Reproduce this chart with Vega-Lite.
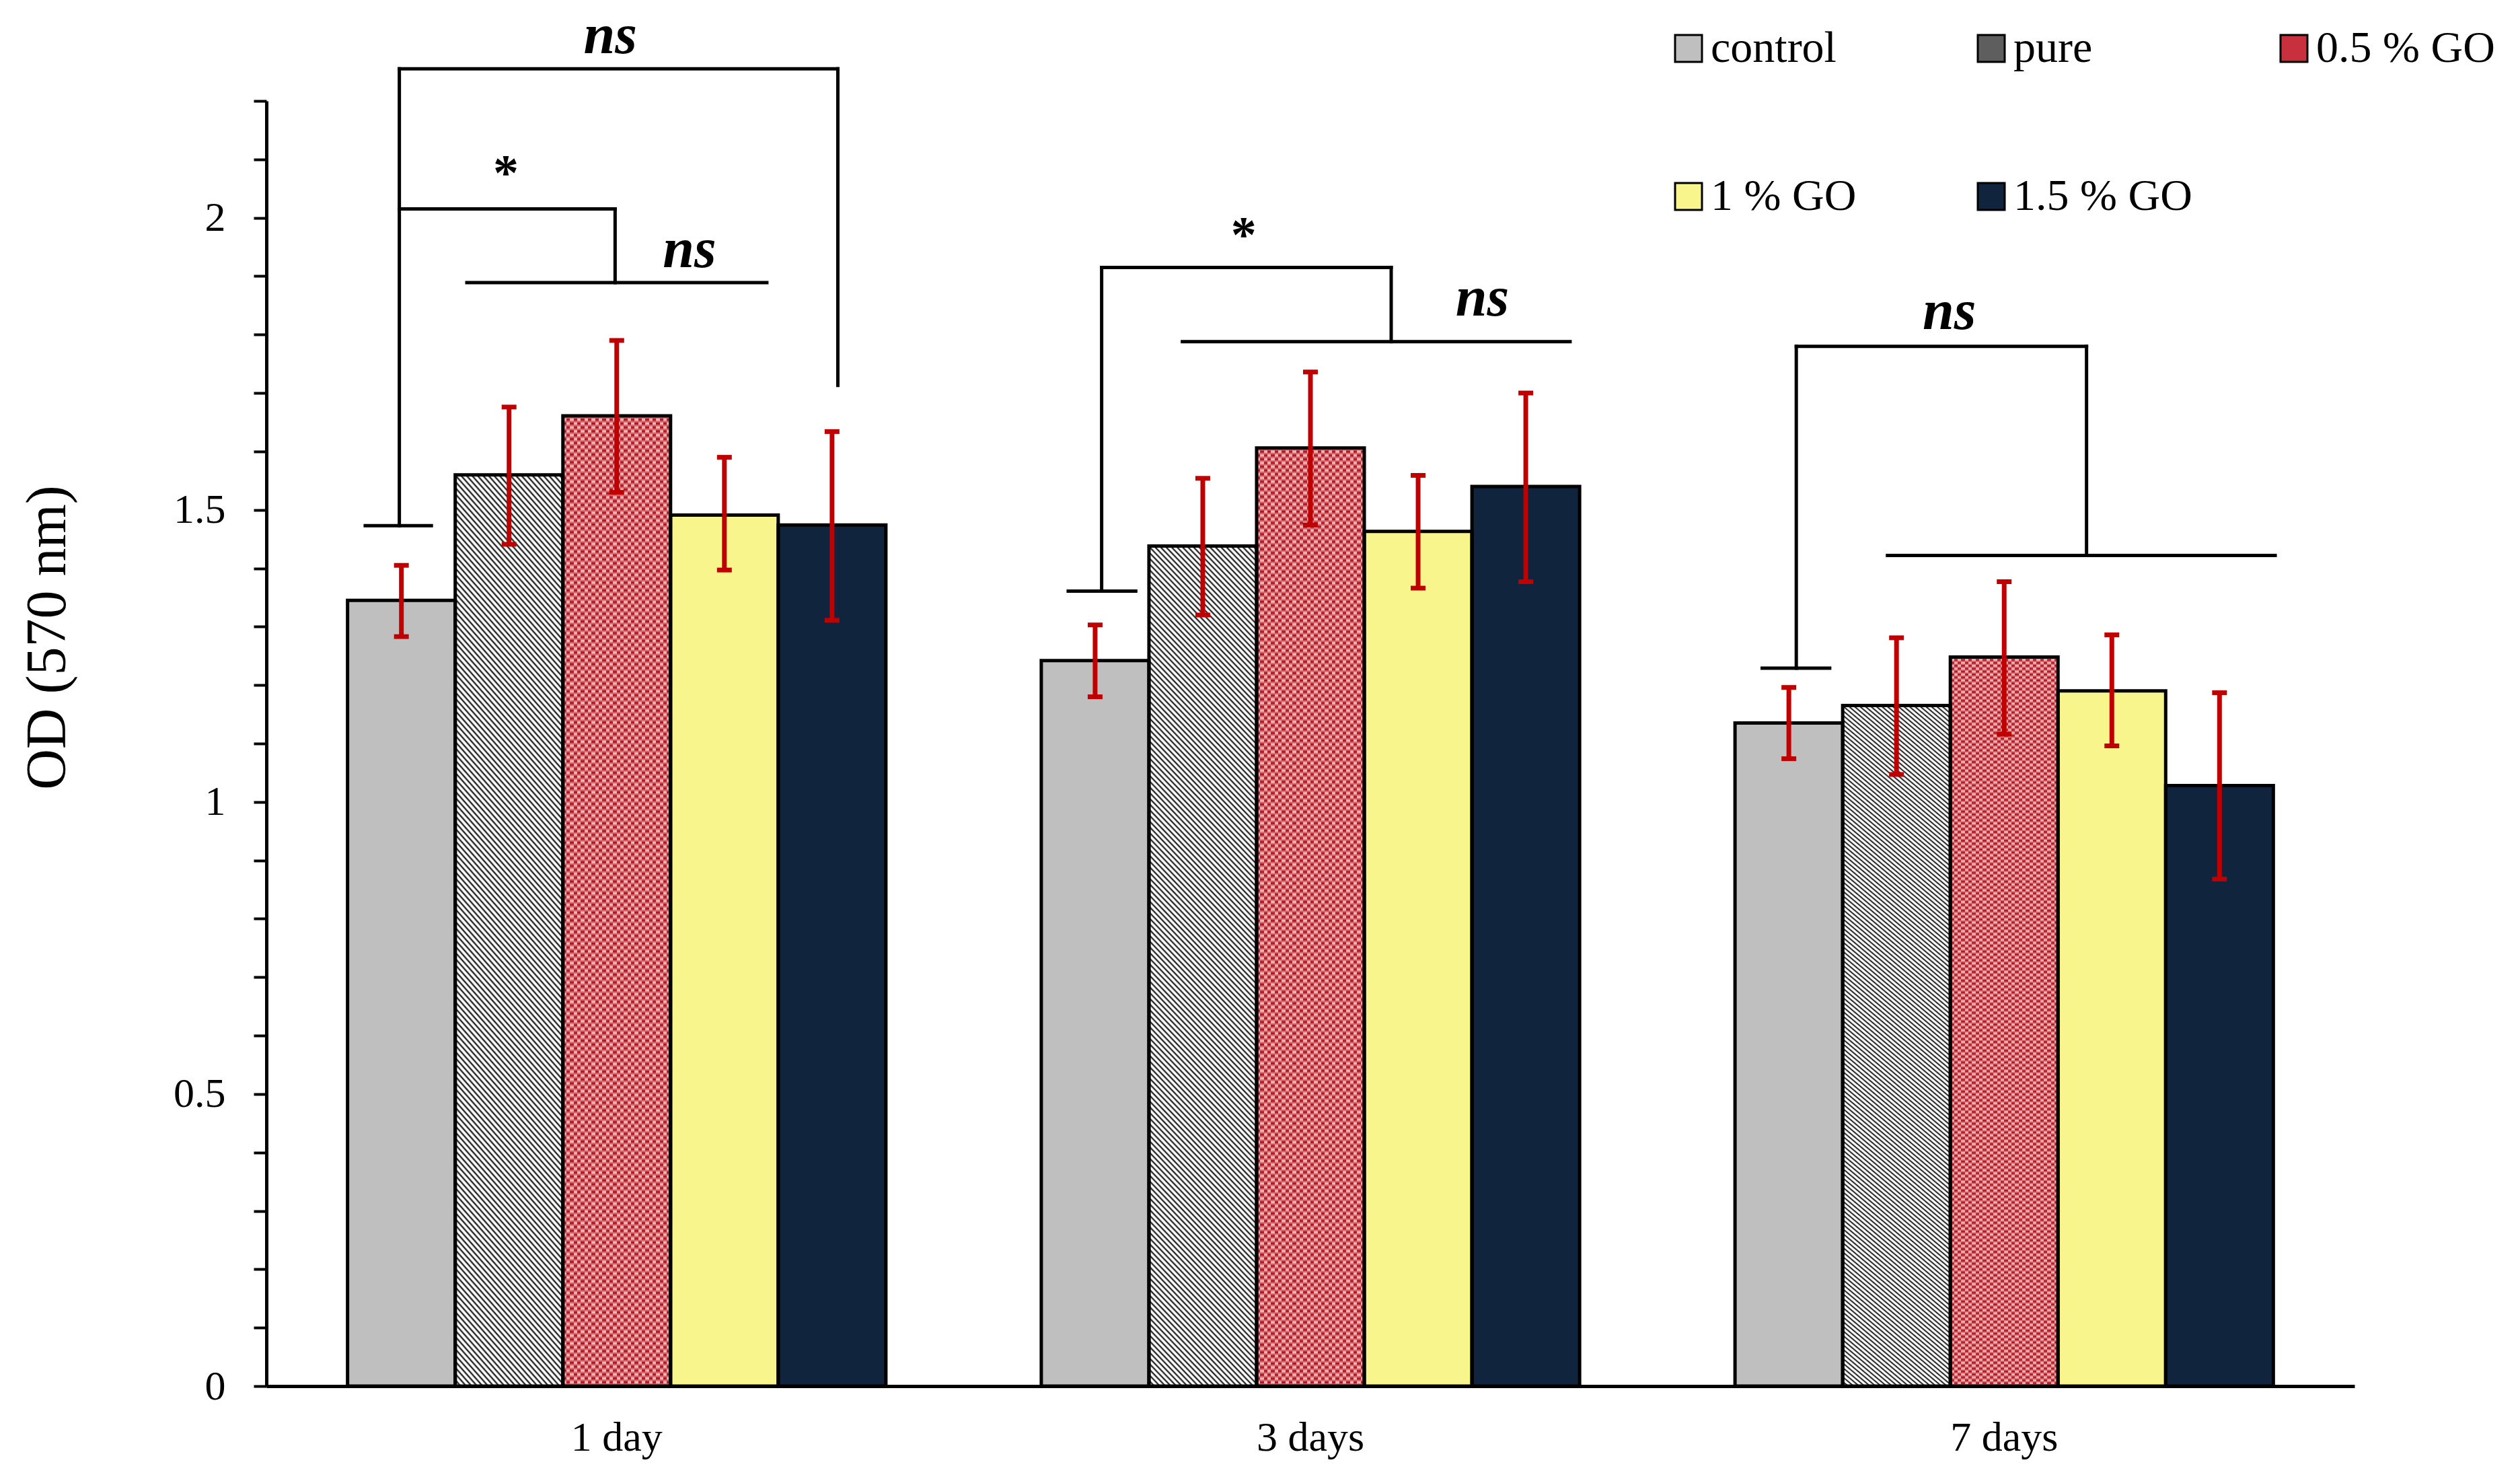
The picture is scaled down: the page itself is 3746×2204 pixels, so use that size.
{
"$schema":"https://vega.github.io/schema/vega-lite/v6.json",
"width":3104,"height":1910,"autosize":"none",
"padding":{"left":396,"top":150,"right":246,"bottom":144},
"background":"white",
"config":{"view":{"stroke":null},"font":"Liberation Serif","axis":{"grid":false},"text":{"font":"Liberation Serif"}},
"datasets":{
"bars":[
{"day":"1 day","group":"control","od":1.345,"lo":1.283,"hi":1.405},
{"day":"1 day","group":"pure","od":1.560,"lo":1.441,"hi":1.676},
{"day":"1 day","group":"0.5 % GO","od":1.661,"lo":1.530,"hi":1.790},
{"day":"1 day","group":"1 % GO","od":1.491,"lo":1.397,"hi":1.590},
{"day":"1 day","group":"1.5 % GO","od":1.474,"lo":1.311,"hi":1.634},
{"day":"3 days","group":"control","od":1.242,"lo":1.180,"hi":1.303},
{"day":"3 days","group":"pure","od":1.438,"lo":1.320,"hi":1.554},
{"day":"3 days","group":"0.5 % GO","od":1.606,"lo":1.474,"hi":1.736},
{"day":"3 days","group":"1 % GO","od":1.463,"lo":1.366,"hi":1.559},
{"day":"3 days","group":"1.5 % GO","od":1.540,"lo":1.377,"hi":1.700},
{"day":"7 days","group":"control","od":1.135,"lo":1.074,"hi":1.196},
{"day":"7 days","group":"pure","od":1.165,"lo":1.047,"hi":1.281},
{"day":"7 days","group":"0.5 % GO","od":1.248,"lo":1.116,"hi":1.377},
{"day":"7 days","group":"1 % GO","od":1.190,"lo":1.096,"hi":1.286},
{"day":"7 days","group":"1.5 % GO","od":1.028,"lo":0.868,"hi":1.187}
],
"brackets":[
{"u":0.142,"u2":0.237,"v":1.473,"v2":1.473},
{"u":0.191,"u2":0.191,"v":1.473,"v2":2.255},
{"u":0.191,"u2":0.821,"v":2.255,"v2":2.255},
{"u":0.821,"u2":0.821,"v":2.255,"v2":1.713},
{"u":0.191,"u2":0.501,"v":2.015,"v2":2.015},
{"u":0.501,"u2":0.501,"v":2.015,"v2":1.889},
{"u":0.288,"u2":0.719,"v":1.889,"v2":1.889},
{"u":1.152,"u2":1.249,"v":1.361,"v2":1.361},
{"u":1.2,"u2":1.2,"v":1.361,"v2":1.915},
{"u":1.2,"u2":1.616,"v":1.915,"v2":1.915},
{"u":1.616,"u2":1.616,"v":1.915,"v2":1.788},
{"u":1.316,"u2":1.873,"v":1.788,"v2":1.788},
{"u":2.149,"u2":2.246,"v":1.229,"v2":1.229},
{"u":2.198,"u2":2.198,"v":1.229,"v2":1.78},
{"u":2.198,"u2":2.615,"v":1.78,"v2":1.78},
{"u":2.615,"u2":2.615,"v":1.78,"v2":1.422},
{"u":2.329,"u2":2.886,"v":1.422,"v2":1.422}
],
"marks":[
{"u":0.494,"v":2.282,"t":"ns"},
{"u":0.608,"v":1.916,"t":"ns"},
{"u":1.747,"v":1.833,"t":"ns"},
{"u":2.418,"v":1.809,"t":"ns"},
{"u":0.344,"v":2.048,"t":"*"},
{"u":1.404,"v":1.942,"t":"*"}
]
},
"resolve":{"scale":{"x":"independent"},"axis":{"x":"independent"}},
"layer":[
{"data":{"name":"bars"},
"encoding":{
"x":{"field":"day","type":"nominal","sort":["1 day","3 days","7 days"],"scale":{"paddingInner":0.224,"paddingOuter":0.117},"axis":{"title":null,"labelAngle":0,"ticks":false,"tickSize":0,"labelPadding":46,"labelFontSize":62,"labelFont":"Liberation Serif","labelColor":"black","domainColor":"black","domainWidth":5}},
"xOffset":{"field":"group","type":"nominal","sort":["control","pure","0.5 % GO","1 % GO","1.5 % GO"],"scale":{"domain":["control","pure","0.5 % GO","1 % GO","1.5 % GO"],"paddingInner":0,"paddingOuter":0}}
},
"layer":[
{"mark":{"type":"bar"},
"encoding":{
"y":{"field":"od","type":"quantitative","scale":{"domain":[0,2.2],"nice":false,"zero":true},"title":"OD (570 nm)",
"axis":{"values":[0,0.1,0.2,0.3,0.4,0.5,0.6,0.7,0.8,0.9,1,1.1,1.2,1.3,1.4,1.5,1.6,1.7,1.8,1.9,2,2.1,2.2],"labelExpr":"(datum.value*2) % 1 === 0 ? format(datum.value, '~g') : ''","labelOverlap":false,"labelFlush":false,"tickSize":19,"tickWidth":4,"tickColor":"black","domainColor":"black","domainWidth":5,"labelPadding":42,"labelFontSize":62,"labelFont":"Liberation Serif","labelColor":"black","title":"OD (570 nm)","titleFont":"Liberation Serif","titleFontSize":84,"titleFontWeight":"normal","titleColor":"black","titleX":-300,"titleY":797,"titleAngle":-90,"titleAlign":"center","titleBaseline":"alphabetic"}},
"color":{"field":"group","type":"nominal","scale":{"domain":["control","pure","0.5 % GO","1 % GO","1.5 % GO"],"range":["#bfbfbf","#5e5e5e","#c8303e","#f8f58c","#10243e"]},
"legend":{"orient":"none","legendX":2081,"legendY":-111,"direction":"horizontal","columns":3,"gridAlign":"all","columnPadding":118,"rowPadding":154,"symbolType":"square","symbolSize":1600,"symbolStrokeColor":"black","symbolStrokeWidth":3,"symbolOpacity":1,"labelFontSize":66,"labelFont":"Liberation Serif","labelColor":"black","labelOffset":0,"labelLimit":600,"title":null,"padding":0}}
}},
{"transform":[{"filter":"datum.group === 'pure'"}],
"mark":{"type":"bar","fill":{"gradient":"linear","x1":0,"y1":1,"x2":0.1485,"y2":-0.1135,"stops":[
{"offset":0,"color":"#000"},{"offset":0.002,"color":"#fff"},{"offset":0.004,"color":"#fff"},{"offset":0.006,"color":"#000"},{"offset":0.008,"color":"#fff"},{"offset":0.01,"color":"#fff"},{"offset":0.012,"color":"#000"},{"offset":0.014,"color":"#fff"},{"offset":0.016,"color":"#fff"},{"offset":0.018,"color":"#000"},{"offset":0.02,"color":"#fff"},{"offset":0.022,"color":"#fff"},{"offset":0.024,"color":"#000"},{"offset":0.026,"color":"#fff"},{"offset":0.028,"color":"#fff"},
{"offset":0.03,"color":"#000"},{"offset":0.032,"color":"#fff"},{"offset":0.034,"color":"#fff"},{"offset":0.036,"color":"#000"},{"offset":0.038,"color":"#fff"},{"offset":0.04,"color":"#fff"},{"offset":0.042,"color":"#000"},{"offset":0.044,"color":"#fff"},{"offset":0.046,"color":"#fff"},{"offset":0.048,"color":"#000"},{"offset":0.05,"color":"#fff"},{"offset":0.052,"color":"#fff"},{"offset":0.054,"color":"#000"},{"offset":0.056,"color":"#fff"},{"offset":0.058,"color":"#fff"},
{"offset":0.06,"color":"#000"},{"offset":0.062,"color":"#fff"},{"offset":0.064,"color":"#fff"},{"offset":0.066,"color":"#000"},{"offset":0.068,"color":"#fff"},{"offset":0.07,"color":"#fff"},{"offset":0.072,"color":"#000"},{"offset":0.074,"color":"#fff"},{"offset":0.076,"color":"#fff"},{"offset":0.078,"color":"#000"},{"offset":0.08,"color":"#fff"},{"offset":0.082,"color":"#fff"},{"offset":0.084,"color":"#000"},{"offset":0.086,"color":"#fff"},{"offset":0.088,"color":"#fff"},
{"offset":0.09,"color":"#000"},{"offset":0.092,"color":"#fff"},{"offset":0.094,"color":"#fff"},{"offset":0.096,"color":"#000"},{"offset":0.098,"color":"#fff"},{"offset":0.1,"color":"#fff"},{"offset":0.102,"color":"#000"},{"offset":0.104,"color":"#fff"},{"offset":0.106,"color":"#fff"},{"offset":0.108,"color":"#000"},{"offset":0.11,"color":"#fff"},{"offset":0.112,"color":"#fff"},{"offset":0.114,"color":"#000"},{"offset":0.116,"color":"#fff"},{"offset":0.118,"color":"#fff"},
{"offset":0.12,"color":"#000"},{"offset":0.122,"color":"#fff"},{"offset":0.124,"color":"#fff"},{"offset":0.126,"color":"#000"},{"offset":0.128,"color":"#fff"},{"offset":0.13,"color":"#fff"},{"offset":0.132,"color":"#000"},{"offset":0.134,"color":"#fff"},{"offset":0.136,"color":"#fff"},{"offset":0.138,"color":"#000"},{"offset":0.14,"color":"#fff"},{"offset":0.142,"color":"#fff"},{"offset":0.144,"color":"#000"},{"offset":0.146,"color":"#fff"},{"offset":0.148,"color":"#fff"},
{"offset":0.15,"color":"#000"},{"offset":0.152,"color":"#fff"},{"offset":0.154,"color":"#fff"},{"offset":0.156,"color":"#000"},{"offset":0.158,"color":"#fff"},{"offset":0.16,"color":"#fff"},{"offset":0.162,"color":"#000"},{"offset":0.164,"color":"#fff"},{"offset":0.166,"color":"#fff"},{"offset":0.168,"color":"#000"},{"offset":0.17,"color":"#fff"},{"offset":0.172,"color":"#fff"},{"offset":0.174,"color":"#000"},{"offset":0.176,"color":"#fff"},{"offset":0.178,"color":"#fff"},
{"offset":0.18,"color":"#000"},{"offset":0.182,"color":"#fff"},{"offset":0.184,"color":"#fff"},{"offset":0.186,"color":"#000"},{"offset":0.188,"color":"#fff"},{"offset":0.19,"color":"#fff"},{"offset":0.192,"color":"#000"},{"offset":0.194,"color":"#fff"},{"offset":0.196,"color":"#fff"},{"offset":0.198,"color":"#000"},{"offset":0.2,"color":"#fff"},{"offset":0.202,"color":"#fff"},{"offset":0.204,"color":"#000"},{"offset":0.206,"color":"#fff"},{"offset":0.208,"color":"#fff"},
{"offset":0.21,"color":"#000"},{"offset":0.212,"color":"#fff"},{"offset":0.214,"color":"#fff"},{"offset":0.216,"color":"#000"},{"offset":0.218,"color":"#fff"},{"offset":0.22,"color":"#fff"},{"offset":0.222,"color":"#000"},{"offset":0.224,"color":"#fff"},{"offset":0.226,"color":"#fff"},{"offset":0.228,"color":"#000"},{"offset":0.23,"color":"#fff"},{"offset":0.232,"color":"#fff"},{"offset":0.234,"color":"#000"},{"offset":0.236,"color":"#fff"},{"offset":0.238,"color":"#fff"},
{"offset":0.24,"color":"#000"},{"offset":0.242,"color":"#fff"},{"offset":0.244,"color":"#fff"},{"offset":0.246,"color":"#000"},{"offset":0.248,"color":"#fff"},{"offset":0.25,"color":"#fff"},{"offset":0.252,"color":"#000"},{"offset":0.254,"color":"#fff"},{"offset":0.256,"color":"#fff"},{"offset":0.258,"color":"#000"},{"offset":0.26,"color":"#fff"},{"offset":0.262,"color":"#fff"},{"offset":0.264,"color":"#000"},{"offset":0.266,"color":"#fff"},{"offset":0.268,"color":"#fff"},
{"offset":0.27,"color":"#000"},{"offset":0.272,"color":"#fff"},{"offset":0.274,"color":"#fff"},{"offset":0.276,"color":"#000"},{"offset":0.278,"color":"#fff"},{"offset":0.28,"color":"#fff"},{"offset":0.282,"color":"#000"},{"offset":0.284,"color":"#fff"},{"offset":0.286,"color":"#fff"},{"offset":0.288,"color":"#000"},{"offset":0.29,"color":"#fff"},{"offset":0.292,"color":"#fff"},{"offset":0.294,"color":"#000"},{"offset":0.296,"color":"#fff"},{"offset":0.298,"color":"#fff"},
{"offset":0.3,"color":"#000"},{"offset":0.302,"color":"#fff"},{"offset":0.304,"color":"#fff"},{"offset":0.306,"color":"#000"},{"offset":0.308,"color":"#fff"},{"offset":0.31,"color":"#fff"},{"offset":0.312,"color":"#000"},{"offset":0.314,"color":"#fff"},{"offset":0.316,"color":"#fff"},{"offset":0.318,"color":"#000"},{"offset":0.32,"color":"#fff"},{"offset":0.322,"color":"#fff"},{"offset":0.324,"color":"#000"},{"offset":0.326,"color":"#fff"},{"offset":0.328,"color":"#fff"},
{"offset":0.33,"color":"#000"},{"offset":0.332,"color":"#fff"},{"offset":0.334,"color":"#fff"},{"offset":0.336,"color":"#000"},{"offset":0.338,"color":"#fff"},{"offset":0.34,"color":"#fff"},{"offset":0.342,"color":"#000"},{"offset":0.344,"color":"#fff"},{"offset":0.346,"color":"#fff"},{"offset":0.348,"color":"#000"},{"offset":0.35,"color":"#fff"},{"offset":0.352,"color":"#fff"},{"offset":0.354,"color":"#000"},{"offset":0.356,"color":"#fff"},{"offset":0.358,"color":"#fff"},
{"offset":0.36,"color":"#000"},{"offset":0.362,"color":"#fff"},{"offset":0.364,"color":"#fff"},{"offset":0.366,"color":"#000"},{"offset":0.368,"color":"#fff"},{"offset":0.37,"color":"#fff"},{"offset":0.372,"color":"#000"},{"offset":0.374,"color":"#fff"},{"offset":0.376,"color":"#fff"},{"offset":0.378,"color":"#000"},{"offset":0.38,"color":"#fff"},{"offset":0.382,"color":"#fff"},{"offset":0.384,"color":"#000"},{"offset":0.386,"color":"#fff"},{"offset":0.388,"color":"#fff"},
{"offset":0.39,"color":"#000"},{"offset":0.392,"color":"#fff"},{"offset":0.394,"color":"#fff"},{"offset":0.396,"color":"#000"},{"offset":0.398,"color":"#fff"},{"offset":0.4,"color":"#fff"},{"offset":0.402,"color":"#000"},{"offset":0.404,"color":"#fff"},{"offset":0.406,"color":"#fff"},{"offset":0.408,"color":"#000"},{"offset":0.41,"color":"#fff"},{"offset":0.412,"color":"#fff"},{"offset":0.414,"color":"#000"},{"offset":0.416,"color":"#fff"},{"offset":0.418,"color":"#fff"},
{"offset":0.42,"color":"#000"},{"offset":0.422,"color":"#fff"},{"offset":0.424,"color":"#fff"},{"offset":0.426,"color":"#000"},{"offset":0.428,"color":"#fff"},{"offset":0.43,"color":"#fff"},{"offset":0.432,"color":"#000"},{"offset":0.434,"color":"#fff"},{"offset":0.436,"color":"#fff"},{"offset":0.438,"color":"#000"},{"offset":0.44,"color":"#fff"},{"offset":0.442,"color":"#fff"},{"offset":0.444,"color":"#000"},{"offset":0.446,"color":"#fff"},{"offset":0.448,"color":"#fff"},
{"offset":0.45,"color":"#000"},{"offset":0.452,"color":"#fff"},{"offset":0.454,"color":"#fff"},{"offset":0.456,"color":"#000"},{"offset":0.458,"color":"#fff"},{"offset":0.46,"color":"#fff"},{"offset":0.462,"color":"#000"},{"offset":0.464,"color":"#fff"},{"offset":0.466,"color":"#fff"},{"offset":0.468,"color":"#000"},{"offset":0.47,"color":"#fff"},{"offset":0.472,"color":"#fff"},{"offset":0.474,"color":"#000"},{"offset":0.476,"color":"#fff"},{"offset":0.478,"color":"#fff"},
{"offset":0.48,"color":"#000"},{"offset":0.482,"color":"#fff"},{"offset":0.484,"color":"#fff"},{"offset":0.486,"color":"#000"},{"offset":0.488,"color":"#fff"},{"offset":0.49,"color":"#fff"},{"offset":0.492,"color":"#000"},{"offset":0.494,"color":"#fff"},{"offset":0.496,"color":"#fff"},{"offset":0.498,"color":"#000"},{"offset":0.5,"color":"#fff"},{"offset":0.502,"color":"#fff"},{"offset":0.504,"color":"#000"},{"offset":0.506,"color":"#fff"},{"offset":0.508,"color":"#fff"},
{"offset":0.51,"color":"#000"},{"offset":0.512,"color":"#fff"},{"offset":0.514,"color":"#fff"},{"offset":0.516,"color":"#000"},{"offset":0.518,"color":"#fff"},{"offset":0.52,"color":"#fff"},{"offset":0.522,"color":"#000"},{"offset":0.524,"color":"#fff"},{"offset":0.526,"color":"#fff"},{"offset":0.528,"color":"#000"},{"offset":0.53,"color":"#fff"},{"offset":0.532,"color":"#fff"},{"offset":0.534,"color":"#000"},{"offset":0.536,"color":"#fff"},{"offset":0.538,"color":"#fff"},
{"offset":0.54,"color":"#000"},{"offset":0.542,"color":"#fff"},{"offset":0.544,"color":"#fff"},{"offset":0.546,"color":"#000"},{"offset":0.548,"color":"#fff"},{"offset":0.55,"color":"#fff"},{"offset":0.552,"color":"#000"},{"offset":0.554,"color":"#fff"},{"offset":0.556,"color":"#fff"},{"offset":0.558,"color":"#000"},{"offset":0.56,"color":"#fff"},{"offset":0.562,"color":"#fff"},{"offset":0.564,"color":"#000"},{"offset":0.566,"color":"#fff"},{"offset":0.568,"color":"#fff"},
{"offset":0.57,"color":"#000"},{"offset":0.572,"color":"#fff"},{"offset":0.574,"color":"#fff"},{"offset":0.576,"color":"#000"},{"offset":0.578,"color":"#fff"},{"offset":0.58,"color":"#fff"},{"offset":0.582,"color":"#000"},{"offset":0.584,"color":"#fff"},{"offset":0.586,"color":"#fff"},{"offset":0.588,"color":"#000"},{"offset":0.59,"color":"#fff"},{"offset":0.592,"color":"#fff"},{"offset":0.594,"color":"#000"},{"offset":0.596,"color":"#fff"},{"offset":0.598,"color":"#fff"},
{"offset":0.6,"color":"#000"},{"offset":0.602,"color":"#fff"},{"offset":0.604,"color":"#fff"},{"offset":0.606,"color":"#000"},{"offset":0.608,"color":"#fff"},{"offset":0.61,"color":"#fff"},{"offset":0.612,"color":"#000"},{"offset":0.614,"color":"#fff"},{"offset":0.616,"color":"#fff"},{"offset":0.618,"color":"#000"},{"offset":0.62,"color":"#fff"},{"offset":0.622,"color":"#fff"},{"offset":0.624,"color":"#000"},{"offset":0.626,"color":"#fff"},{"offset":0.628,"color":"#fff"},
{"offset":0.63,"color":"#000"},{"offset":0.632,"color":"#fff"},{"offset":0.634,"color":"#fff"},{"offset":0.636,"color":"#000"},{"offset":0.638,"color":"#fff"},{"offset":0.64,"color":"#fff"},{"offset":0.642,"color":"#000"},{"offset":0.644,"color":"#fff"},{"offset":0.646,"color":"#fff"},{"offset":0.648,"color":"#000"},{"offset":0.65,"color":"#fff"},{"offset":0.652,"color":"#fff"},{"offset":0.654,"color":"#000"},{"offset":0.656,"color":"#fff"},{"offset":0.658,"color":"#fff"},
{"offset":0.66,"color":"#000"},{"offset":0.662,"color":"#fff"},{"offset":0.664,"color":"#fff"},{"offset":0.666,"color":"#000"},{"offset":0.668,"color":"#fff"},{"offset":0.67,"color":"#fff"},{"offset":0.672,"color":"#000"},{"offset":0.674,"color":"#fff"},{"offset":0.676,"color":"#fff"},{"offset":0.678,"color":"#000"},{"offset":0.68,"color":"#fff"},{"offset":0.682,"color":"#fff"},{"offset":0.684,"color":"#000"},{"offset":0.686,"color":"#fff"},{"offset":0.688,"color":"#fff"},
{"offset":0.69,"color":"#000"},{"offset":0.692,"color":"#fff"},{"offset":0.694,"color":"#fff"},{"offset":0.696,"color":"#000"},{"offset":0.698,"color":"#fff"},{"offset":0.7,"color":"#fff"},{"offset":0.702,"color":"#000"},{"offset":0.704,"color":"#fff"},{"offset":0.706,"color":"#fff"},{"offset":0.708,"color":"#000"},{"offset":0.71,"color":"#fff"},{"offset":0.712,"color":"#fff"},{"offset":0.714,"color":"#000"},{"offset":0.716,"color":"#fff"},{"offset":0.718,"color":"#fff"},
{"offset":0.72,"color":"#000"},{"offset":0.722,"color":"#fff"},{"offset":0.724,"color":"#fff"},{"offset":0.726,"color":"#000"},{"offset":0.728,"color":"#fff"},{"offset":0.73,"color":"#fff"},{"offset":0.732,"color":"#000"},{"offset":0.734,"color":"#fff"},{"offset":0.736,"color":"#fff"},{"offset":0.738,"color":"#000"},{"offset":0.74,"color":"#fff"},{"offset":0.742,"color":"#fff"},{"offset":0.744,"color":"#000"},{"offset":0.746,"color":"#fff"},{"offset":0.748,"color":"#fff"},
{"offset":0.75,"color":"#000"},{"offset":0.752,"color":"#fff"},{"offset":0.754,"color":"#fff"},{"offset":0.756,"color":"#000"},{"offset":0.758,"color":"#fff"},{"offset":0.76,"color":"#fff"},{"offset":0.762,"color":"#000"},{"offset":0.764,"color":"#fff"},{"offset":0.766,"color":"#fff"},{"offset":0.768,"color":"#000"},{"offset":0.77,"color":"#fff"},{"offset":0.772,"color":"#fff"},{"offset":0.774,"color":"#000"},{"offset":0.776,"color":"#fff"},{"offset":0.778,"color":"#fff"},
{"offset":0.78,"color":"#000"},{"offset":0.782,"color":"#fff"},{"offset":0.784,"color":"#fff"},{"offset":0.786,"color":"#000"},{"offset":0.788,"color":"#fff"},{"offset":0.79,"color":"#fff"},{"offset":0.792,"color":"#000"},{"offset":0.794,"color":"#fff"},{"offset":0.796,"color":"#fff"},{"offset":0.798,"color":"#000"},{"offset":0.8,"color":"#fff"},{"offset":0.802,"color":"#fff"},{"offset":0.804,"color":"#000"},{"offset":0.806,"color":"#fff"},{"offset":0.808,"color":"#fff"},
{"offset":0.81,"color":"#000"},{"offset":0.812,"color":"#fff"},{"offset":0.814,"color":"#fff"},{"offset":0.816,"color":"#000"},{"offset":0.818,"color":"#fff"},{"offset":0.82,"color":"#fff"},{"offset":0.822,"color":"#000"},{"offset":0.824,"color":"#fff"},{"offset":0.826,"color":"#fff"},{"offset":0.828,"color":"#000"},{"offset":0.83,"color":"#fff"},{"offset":0.832,"color":"#fff"},{"offset":0.834,"color":"#000"},{"offset":0.836,"color":"#fff"},{"offset":0.838,"color":"#fff"},
{"offset":0.84,"color":"#000"},{"offset":0.842,"color":"#fff"},{"offset":0.844,"color":"#fff"},{"offset":0.846,"color":"#000"},{"offset":0.848,"color":"#fff"},{"offset":0.85,"color":"#fff"},{"offset":0.852,"color":"#000"},{"offset":0.854,"color":"#fff"},{"offset":0.856,"color":"#fff"},{"offset":0.858,"color":"#000"},{"offset":0.86,"color":"#fff"},{"offset":0.862,"color":"#fff"},{"offset":0.864,"color":"#000"},{"offset":0.866,"color":"#fff"},{"offset":0.868,"color":"#fff"},
{"offset":0.87,"color":"#000"},{"offset":0.872,"color":"#fff"},{"offset":0.874,"color":"#fff"},{"offset":0.876,"color":"#000"},{"offset":0.878,"color":"#fff"},{"offset":0.88,"color":"#fff"},{"offset":0.882,"color":"#000"},{"offset":0.884,"color":"#fff"},{"offset":0.886,"color":"#fff"},{"offset":0.888,"color":"#000"},{"offset":0.89,"color":"#fff"},{"offset":0.892,"color":"#fff"},{"offset":0.894,"color":"#000"},{"offset":0.896,"color":"#fff"},{"offset":0.898,"color":"#fff"},
{"offset":0.9,"color":"#000"},{"offset":0.902,"color":"#fff"},{"offset":0.904,"color":"#fff"},{"offset":0.906,"color":"#000"},{"offset":0.908,"color":"#fff"},{"offset":0.91,"color":"#fff"},{"offset":0.912,"color":"#000"},{"offset":0.914,"color":"#fff"},{"offset":0.916,"color":"#fff"},{"offset":0.918,"color":"#000"},{"offset":0.92,"color":"#fff"},{"offset":0.922,"color":"#fff"},{"offset":0.924,"color":"#000"},{"offset":0.926,"color":"#fff"},{"offset":0.928,"color":"#fff"},
{"offset":0.93,"color":"#000"},{"offset":0.932,"color":"#fff"},{"offset":0.934,"color":"#fff"},{"offset":0.936,"color":"#000"},{"offset":0.938,"color":"#fff"},{"offset":0.94,"color":"#fff"},{"offset":0.942,"color":"#000"},{"offset":0.944,"color":"#fff"},{"offset":0.946,"color":"#fff"},{"offset":0.948,"color":"#000"},{"offset":0.95,"color":"#fff"},{"offset":0.952,"color":"#fff"},{"offset":0.954,"color":"#000"},{"offset":0.956,"color":"#fff"},{"offset":0.958,"color":"#fff"},
{"offset":0.96,"color":"#000"},{"offset":0.962,"color":"#fff"},{"offset":0.964,"color":"#fff"},{"offset":0.966,"color":"#000"},{"offset":0.968,"color":"#fff"},{"offset":0.97,"color":"#fff"},{"offset":0.972,"color":"#000"},{"offset":0.974,"color":"#fff"},{"offset":0.976,"color":"#fff"},{"offset":0.978,"color":"#000"},{"offset":0.98,"color":"#fff"},{"offset":0.982,"color":"#fff"},{"offset":0.984,"color":"#000"},{"offset":0.986,"color":"#fff"},{"offset":0.988,"color":"#fff"},
{"offset":0.99,"color":"#000"},{"offset":0.992,"color":"#fff"},{"offset":0.994,"color":"#fff"},{"offset":0.996,"color":"#000"},{"offset":0.998,"color":"#fff"},{"offset":1,"color":"#fff"}
]}},
"encoding":{"y":{"field":"od","type":"quantitative","scale":{"domain":[0,2.2],"nice":false},"title":"OD (570 nm)"}}},
{"transform":[{"filter":"datum.group === '0.5 % GO'"}],
"mark":{"type":"bar","fill":{"gradient":"linear","x1":0,"y1":0,"x2":0,"y2":1,"stops":[
{"offset":0,"color":"#000"},{"offset":0.004,"color":"#fff"},{"offset":0.008,"color":"#000"},{"offset":0.012,"color":"#fff"},{"offset":0.016,"color":"#000"},{"offset":0.02,"color":"#fff"},{"offset":0.024,"color":"#000"},{"offset":0.028,"color":"#fff"},{"offset":0.032,"color":"#000"},{"offset":0.036,"color":"#fff"},
{"offset":0.04,"color":"#000"},{"offset":0.044,"color":"#fff"},{"offset":0.048,"color":"#000"},{"offset":0.052,"color":"#fff"},{"offset":0.056,"color":"#000"},{"offset":0.06,"color":"#fff"},{"offset":0.064,"color":"#000"},{"offset":0.068,"color":"#fff"},{"offset":0.072,"color":"#000"},{"offset":0.076,"color":"#fff"},
{"offset":0.08,"color":"#000"},{"offset":0.084,"color":"#fff"},{"offset":0.088,"color":"#000"},{"offset":0.092,"color":"#fff"},{"offset":0.096,"color":"#000"},{"offset":0.1,"color":"#fff"},{"offset":0.104,"color":"#000"},{"offset":0.108,"color":"#fff"},{"offset":0.112,"color":"#000"},{"offset":0.116,"color":"#fff"},
{"offset":0.12,"color":"#000"},{"offset":0.124,"color":"#fff"},{"offset":0.128,"color":"#000"},{"offset":0.132,"color":"#fff"},{"offset":0.136,"color":"#000"},{"offset":0.14,"color":"#fff"},{"offset":0.144,"color":"#000"},{"offset":0.148,"color":"#fff"},{"offset":0.152,"color":"#000"},{"offset":0.156,"color":"#fff"},
{"offset":0.16,"color":"#000"},{"offset":0.164,"color":"#fff"},{"offset":0.168,"color":"#000"},{"offset":0.172,"color":"#fff"},{"offset":0.176,"color":"#000"},{"offset":0.18,"color":"#fff"},{"offset":0.184,"color":"#000"},{"offset":0.188,"color":"#fff"},{"offset":0.192,"color":"#000"},{"offset":0.196,"color":"#fff"},
{"offset":0.2,"color":"#000"},{"offset":0.204,"color":"#fff"},{"offset":0.208,"color":"#000"},{"offset":0.212,"color":"#fff"},{"offset":0.216,"color":"#000"},{"offset":0.22,"color":"#fff"},{"offset":0.224,"color":"#000"},{"offset":0.228,"color":"#fff"},{"offset":0.232,"color":"#000"},{"offset":0.236,"color":"#fff"},
{"offset":0.24,"color":"#000"},{"offset":0.244,"color":"#fff"},{"offset":0.248,"color":"#000"},{"offset":0.252,"color":"#fff"},{"offset":0.256,"color":"#000"},{"offset":0.26,"color":"#fff"},{"offset":0.264,"color":"#000"},{"offset":0.268,"color":"#fff"},{"offset":0.272,"color":"#000"},{"offset":0.276,"color":"#fff"},
{"offset":0.28,"color":"#000"},{"offset":0.284,"color":"#fff"},{"offset":0.288,"color":"#000"},{"offset":0.292,"color":"#fff"},{"offset":0.296,"color":"#000"},{"offset":0.3,"color":"#fff"},{"offset":0.304,"color":"#000"},{"offset":0.308,"color":"#fff"},{"offset":0.312,"color":"#000"},{"offset":0.316,"color":"#fff"},
{"offset":0.32,"color":"#000"},{"offset":0.324,"color":"#fff"},{"offset":0.328,"color":"#000"},{"offset":0.332,"color":"#fff"},{"offset":0.336,"color":"#000"},{"offset":0.34,"color":"#fff"},{"offset":0.344,"color":"#000"},{"offset":0.348,"color":"#fff"},{"offset":0.352,"color":"#000"},{"offset":0.356,"color":"#fff"},
{"offset":0.36,"color":"#000"},{"offset":0.364,"color":"#fff"},{"offset":0.368,"color":"#000"},{"offset":0.372,"color":"#fff"},{"offset":0.376,"color":"#000"},{"offset":0.38,"color":"#fff"},{"offset":0.384,"color":"#000"},{"offset":0.388,"color":"#fff"},{"offset":0.392,"color":"#000"},{"offset":0.396,"color":"#fff"},
{"offset":0.4,"color":"#000"},{"offset":0.404,"color":"#fff"},{"offset":0.408,"color":"#000"},{"offset":0.412,"color":"#fff"},{"offset":0.416,"color":"#000"},{"offset":0.42,"color":"#fff"},{"offset":0.424,"color":"#000"},{"offset":0.428,"color":"#fff"},{"offset":0.432,"color":"#000"},{"offset":0.436,"color":"#fff"},
{"offset":0.44,"color":"#000"},{"offset":0.444,"color":"#fff"},{"offset":0.448,"color":"#000"},{"offset":0.452,"color":"#fff"},{"offset":0.456,"color":"#000"},{"offset":0.46,"color":"#fff"},{"offset":0.464,"color":"#000"},{"offset":0.468,"color":"#fff"},{"offset":0.472,"color":"#000"},{"offset":0.476,"color":"#fff"},
{"offset":0.48,"color":"#000"},{"offset":0.484,"color":"#fff"},{"offset":0.488,"color":"#000"},{"offset":0.492,"color":"#fff"},{"offset":0.496,"color":"#000"},{"offset":0.5,"color":"#fff"},{"offset":0.504,"color":"#000"},{"offset":0.508,"color":"#fff"},{"offset":0.512,"color":"#000"},{"offset":0.516,"color":"#fff"},
{"offset":0.52,"color":"#000"},{"offset":0.524,"color":"#fff"},{"offset":0.528,"color":"#000"},{"offset":0.532,"color":"#fff"},{"offset":0.536,"color":"#000"},{"offset":0.54,"color":"#fff"},{"offset":0.544,"color":"#000"},{"offset":0.548,"color":"#fff"},{"offset":0.552,"color":"#000"},{"offset":0.556,"color":"#fff"},
{"offset":0.56,"color":"#000"},{"offset":0.564,"color":"#fff"},{"offset":0.568,"color":"#000"},{"offset":0.572,"color":"#fff"},{"offset":0.576,"color":"#000"},{"offset":0.58,"color":"#fff"},{"offset":0.584,"color":"#000"},{"offset":0.588,"color":"#fff"},{"offset":0.592,"color":"#000"},{"offset":0.596,"color":"#fff"},
{"offset":0.6,"color":"#000"},{"offset":0.604,"color":"#fff"},{"offset":0.608,"color":"#000"},{"offset":0.612,"color":"#fff"},{"offset":0.616,"color":"#000"},{"offset":0.62,"color":"#fff"},{"offset":0.624,"color":"#000"},{"offset":0.628,"color":"#fff"},{"offset":0.632,"color":"#000"},{"offset":0.636,"color":"#fff"},
{"offset":0.64,"color":"#000"},{"offset":0.644,"color":"#fff"},{"offset":0.648,"color":"#000"},{"offset":0.652,"color":"#fff"},{"offset":0.656,"color":"#000"},{"offset":0.66,"color":"#fff"},{"offset":0.664,"color":"#000"},{"offset":0.668,"color":"#fff"},{"offset":0.672,"color":"#000"},{"offset":0.676,"color":"#fff"},
{"offset":0.68,"color":"#000"},{"offset":0.684,"color":"#fff"},{"offset":0.688,"color":"#000"},{"offset":0.692,"color":"#fff"},{"offset":0.696,"color":"#000"},{"offset":0.7,"color":"#fff"},{"offset":0.704,"color":"#000"},{"offset":0.708,"color":"#fff"},{"offset":0.712,"color":"#000"},{"offset":0.716,"color":"#fff"},
{"offset":0.72,"color":"#000"},{"offset":0.724,"color":"#fff"},{"offset":0.728,"color":"#000"},{"offset":0.732,"color":"#fff"},{"offset":0.736,"color":"#000"},{"offset":0.74,"color":"#fff"},{"offset":0.744,"color":"#000"},{"offset":0.748,"color":"#fff"},{"offset":0.752,"color":"#000"},{"offset":0.756,"color":"#fff"},
{"offset":0.76,"color":"#000"},{"offset":0.764,"color":"#fff"},{"offset":0.768,"color":"#000"},{"offset":0.772,"color":"#fff"},{"offset":0.776,"color":"#000"},{"offset":0.78,"color":"#fff"},{"offset":0.784,"color":"#000"},{"offset":0.788,"color":"#fff"},{"offset":0.792,"color":"#000"},{"offset":0.796,"color":"#fff"},
{"offset":0.8,"color":"#000"},{"offset":0.804,"color":"#fff"},{"offset":0.808,"color":"#000"},{"offset":0.812,"color":"#fff"},{"offset":0.816,"color":"#000"},{"offset":0.82,"color":"#fff"},{"offset":0.824,"color":"#000"},{"offset":0.828,"color":"#fff"},{"offset":0.832,"color":"#000"},{"offset":0.836,"color":"#fff"},
{"offset":0.84,"color":"#000"},{"offset":0.844,"color":"#fff"},{"offset":0.848,"color":"#000"},{"offset":0.852,"color":"#fff"},{"offset":0.856,"color":"#000"},{"offset":0.86,"color":"#fff"},{"offset":0.864,"color":"#000"},{"offset":0.868,"color":"#fff"},{"offset":0.872,"color":"#000"},{"offset":0.876,"color":"#fff"},
{"offset":0.88,"color":"#000"},{"offset":0.884,"color":"#fff"},{"offset":0.888,"color":"#000"},{"offset":0.892,"color":"#fff"},{"offset":0.896,"color":"#000"},{"offset":0.9,"color":"#fff"},{"offset":0.904,"color":"#000"},{"offset":0.908,"color":"#fff"},{"offset":0.912,"color":"#000"},{"offset":0.916,"color":"#fff"},
{"offset":0.92,"color":"#000"},{"offset":0.924,"color":"#fff"},{"offset":0.928,"color":"#000"},{"offset":0.932,"color":"#fff"},{"offset":0.936,"color":"#000"},{"offset":0.94,"color":"#fff"},{"offset":0.944,"color":"#000"},{"offset":0.948,"color":"#fff"},{"offset":0.952,"color":"#000"},{"offset":0.956,"color":"#fff"},
{"offset":0.96,"color":"#000"},{"offset":0.964,"color":"#fff"},{"offset":0.968,"color":"#000"},{"offset":0.972,"color":"#fff"},{"offset":0.976,"color":"#000"},{"offset":0.98,"color":"#fff"},{"offset":0.984,"color":"#000"},{"offset":0.988,"color":"#fff"},{"offset":0.992,"color":"#000"},{"offset":0.996,"color":"#fff"},
{"offset":1,"color":"#000"}
]}},
"encoding":{"y":{"field":"od","type":"quantitative","scale":{"domain":[0,2.2],"nice":false},"title":"OD (570 nm)"}}},
{"transform":[{"filter":"datum.group === '0.5 % GO'"}],
"mark":{"type":"bar","blend":"difference","fill":{"gradient":"linear","x1":0,"y1":0,"x2":1,"y2":0,"stops":[
{"offset":0,"color":"#000"},{"offset":0.0333,"color":"#000"},{"offset":0.0333,"color":"#fff"},{"offset":0.0667,"color":"#fff"},
{"offset":0.0667,"color":"#000"},{"offset":0.1,"color":"#000"},{"offset":0.1,"color":"#fff"},{"offset":0.1333,"color":"#fff"},
{"offset":0.1333,"color":"#000"},{"offset":0.1667,"color":"#000"},{"offset":0.1667,"color":"#fff"},{"offset":0.2,"color":"#fff"},
{"offset":0.2,"color":"#000"},{"offset":0.2333,"color":"#000"},{"offset":0.2333,"color":"#fff"},{"offset":0.2667,"color":"#fff"},
{"offset":0.2667,"color":"#000"},{"offset":0.3,"color":"#000"},{"offset":0.3,"color":"#fff"},{"offset":0.3333,"color":"#fff"},
{"offset":0.3333,"color":"#000"},{"offset":0.3667,"color":"#000"},{"offset":0.3667,"color":"#fff"},{"offset":0.4,"color":"#fff"},
{"offset":0.4,"color":"#000"},{"offset":0.4333,"color":"#000"},{"offset":0.4333,"color":"#fff"},{"offset":0.4667,"color":"#fff"},
{"offset":0.4667,"color":"#000"},{"offset":0.5,"color":"#000"},{"offset":0.5,"color":"#fff"},{"offset":0.5333,"color":"#fff"},
{"offset":0.5333,"color":"#000"},{"offset":0.5667,"color":"#000"},{"offset":0.5667,"color":"#fff"},{"offset":0.6,"color":"#fff"},
{"offset":0.6,"color":"#000"},{"offset":0.6333,"color":"#000"},{"offset":0.6333,"color":"#fff"},{"offset":0.6667,"color":"#fff"},
{"offset":0.6667,"color":"#000"},{"offset":0.7,"color":"#000"},{"offset":0.7,"color":"#fff"},{"offset":0.7333,"color":"#fff"},
{"offset":0.7333,"color":"#000"},{"offset":0.7667,"color":"#000"},{"offset":0.7667,"color":"#fff"},{"offset":0.8,"color":"#fff"},
{"offset":0.8,"color":"#000"},{"offset":0.8333,"color":"#000"},{"offset":0.8333,"color":"#fff"},{"offset":0.8667,"color":"#fff"},
{"offset":0.8667,"color":"#000"},{"offset":0.9,"color":"#000"},{"offset":0.9,"color":"#fff"},{"offset":0.9333,"color":"#fff"},
{"offset":0.9333,"color":"#000"},{"offset":0.9667,"color":"#000"},{"offset":0.9667,"color":"#fff"},{"offset":1,"color":"#fff"}
]}},
"encoding":{"y":{"field":"od","type":"quantitative","scale":{"domain":[0,2.2],"nice":false},"title":"OD (570 nm)"}}},
{"transform":[{"filter":"datum.group === '0.5 % GO'"}],
"mark":{"type":"bar","blend":"screen","fill":"#a80c1c"},
"encoding":{"y":{"field":"od","type":"quantitative","scale":{"domain":[0,2.2],"nice":false},"title":"OD (570 nm)"}}},
{"transform":[{"filter":"datum.group === '0.5 % GO'"}],
"mark":{"type":"bar","blend":"multiply","fill":"#ffc6c6"},
"encoding":{"y":{"field":"od","type":"quantitative","scale":{"domain":[0,2.2],"nice":false},"title":"OD (570 nm)"}}},
{"mark":{"type":"bar","fillOpacity":0,"stroke":"black","strokeWidth":5},
"encoding":{"y":{"field":"od","type":"quantitative","scale":{"domain":[0,2.2],"nice":false},"title":"OD (570 nm)"}}},
{"mark":{"type":"rule","color":"#c00000","strokeWidth":7},
"encoding":{"y":{"field":"lo","type":"quantitative","scale":{"domain":[0,2.2],"nice":false},"title":"OD (570 nm)"},"y2":{"field":"hi"}}},
{"mark":{"type":"tick","color":"#c00000","size":22,"thickness":7,"opacity":1},
"encoding":{"y":{"field":"hi","type":"quantitative","scale":{"domain":[0,2.2],"nice":false},"title":"OD (570 nm)"}}},
{"mark":{"type":"tick","color":"#c00000","size":22,"thickness":7,"opacity":1},
"encoding":{"y":{"field":"lo","type":"quantitative","scale":{"domain":[0,2.2],"nice":false},"title":"OD (570 nm)"}}}
]
},
{"encoding":{
"x":{"field":"u","type":"quantitative","scale":{"domain":[0,3],"nice":false,"zero":false},"axis":null},
"y":{"field":"v","type":"quantitative","scale":{"domain":[0,2.2],"nice":false},"title":"OD (570 nm)"}},
"layer":[
{"data":{"name":"brackets"},"mark":{"type":"rule","color":"black","strokeWidth":5,"strokeCap":"square"},"encoding":{"x2":{"field":"u2"},"y2":{"field":"v2"}}},
{"data":{"name":"marks"},"transform":[{"filter":"datum.t === 'ns'"}],"mark":{"type":"text","font":"Liberation Serif","fontSize":84,"fontStyle":"italic","fontWeight":"bold","baseline":"alphabetic","align":"center","color":"black"},"encoding":{"text":{"field":"t"}}},
{"data":{"name":"marks"},"transform":[{"filter":"datum.t === '*'"}],"mark":{"type":"text","font":"Liberation Serif","fontSize":76,"fontWeight":"bold","baseline":"alphabetic","align":"center","color":"black"},"encoding":{"text":{"field":"t"}}}
]}
]
}
